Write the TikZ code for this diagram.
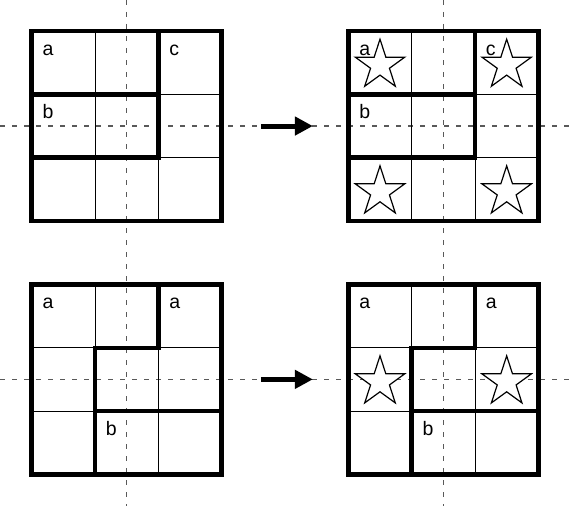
\documentclass[tikz,border=0pt]{standalone}
\usepackage{fontspec}
\setmainfont{Liberation Sans}
\usetikzlibrary{shapes.geometric,arrows.meta}
\tikzset{
  thinline/.style={line width=1pt},
  thickline/.style={line width=4.4pt, line cap=rect},
  guide/.style={black!65, line width=1.2pt, dash pattern=on 5pt off 7pt},
  starcell/.style={star, star points=5, star point ratio=2.618, minimum size=52pt,
    inner sep=0pt, draw, fill=white, line width=1.2pt},
  cellname/.style={anchor=base west, inner sep=0pt},
  stepto/.style={line width=5pt, -{Triangle[length=18pt,width=18pt]}}
}
\begin{document}
\begin{tikzpicture}[x=63.33pt, y=63.33pt, font=\fontsize{19.5}{23}\selectfont, line join=miter]
	\useasboundingbox (0,0) rectangle (9,7.99);
	% guide lines through the centres
	\draw[guide] (0,6)--(9,6) (0,2)--(9,2);
	\draw[guide] (2,7.99)--(2,0) (7,7.99)--(7,0);
	% top row, before and after
	\foreach \gx in {0.5,5.5} {
		\begin{scope}[shift={(\gx,4.5)}]
			\draw[thinline, step={(1,1)}] (0,0) grid (3,3);
			\draw[thickline] (0,0) rectangle (3,3);
			\draw[thickline] (0,2)--(2,2) (2,3)--(2,1)--(0,1);
		\end{scope}
	}
	% bottom row, before and after
	\foreach \gx in {0.5,5.5} {
		\begin{scope}[shift={(\gx,0.5)}]
			\draw[thinline, step={(1,1)}] (0,0) grid (3,3);
			\draw[thickline] (0,0) rectangle (3,3);
			\draw[thickline] (2,3)--(2,2)--(1,2)--(1,0) (1,1)--(3,1);
		\end{scope}
	}
	% stars
	\node[starcell, yshift=-2.5pt] (s1) at (6,7) {};
	\node[starcell, yshift=-2.5pt] (s2) at (8,7) {};
	\node[starcell, yshift=-2.5pt] (s3) at (6,5) {};
	\node[starcell, yshift=-2.5pt] (s4) at (8,5) {};
	\node[starcell, yshift=-2.5pt] (s5) at (6,2) {};
	\node[starcell, yshift=-2.5pt] (s6) at (8,2) {};
	% region labels
	\foreach \gx/\nm in {0.5/L, 5.5/R} {
		\node[cellname] (a\nm) at (\gx+0.17,7.5-0.38) {a};
		\node[cellname] (b\nm) at (\gx+0.17,6.5-0.38) {b};
		\node[cellname] (c\nm) at (\gx+2.17,7.5-0.38) {c};
		\node[cellname] (d\nm) at (\gx+0.17,3.5-0.38) {a};
		\node[cellname] (e\nm) at (\gx+2.17,3.5-0.38) {a};
		\node[cellname] (f\nm) at (\gx+1.17,1.5-0.38) {b};
	}
	% arrows
	\coordinate (t1) at (4.12,6); \coordinate (t2) at (4.94,6);
	\coordinate (u1) at (4.12,2); \coordinate (u2) at (4.94,2);
	\draw[stepto] (t1)--(t2);
	\draw[stepto] (u1)--(u2);
\end{tikzpicture}
\end{document}
